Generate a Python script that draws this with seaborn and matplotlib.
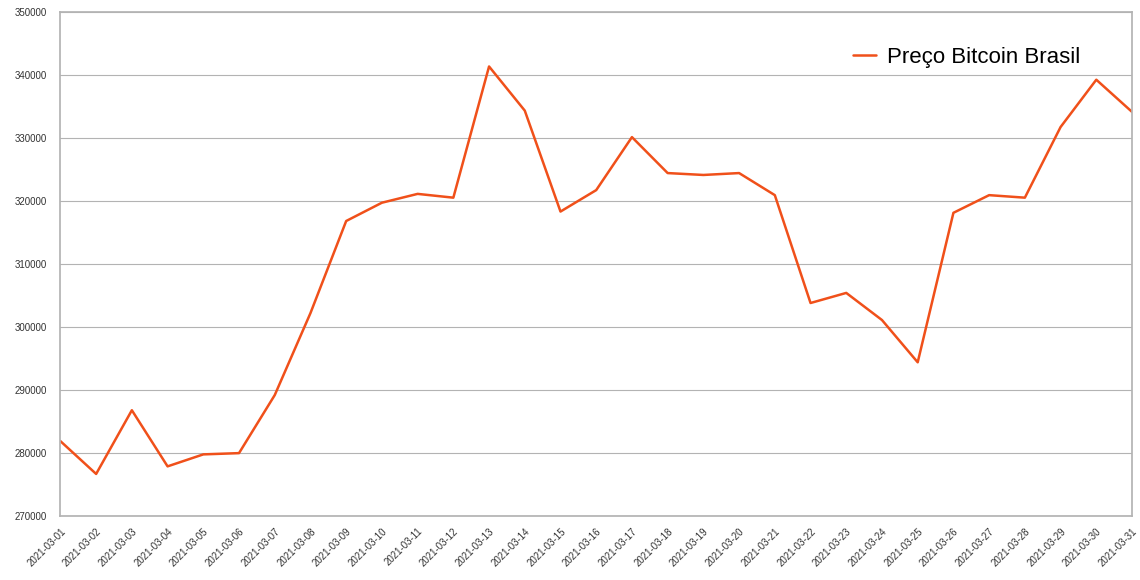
import matplotlib
matplotlib.use("Agg")
import matplotlib.pyplot as plt
import seaborn as sns
import pandas as pd

dates = [f"2021-03-{d:02d}" for d in range(1, 32)]
prices = [281900, 276700, 286800, 277900, 279800, 280000, 289200, 302200,
          316800, 319700, 321100, 320500, 341300, 334300, 318300, 321700,
          330100, 324400, 324100, 324400, 320900, 303800, 305400, 301100,
          294400, 318100, 320900, 320500, 331700, 339200, 334100]

sns.set_theme(style="whitegrid")
plt.rcParams["font.family"] = ["Liberation Sans", "DejaVu Sans"]

df = pd.DataFrame({"data": dates, "preco": prices})
fig, ax = plt.subplots(figsize=(11.4, 5.8), dpi=100)
sns.lineplot(data=df, x="data", y="preco", ax=ax, color="#f0501a", linewidth=1.8,
             label="Preço Bitcoin Brasil", sort=False)

ax.set_ylim(270000, 350000)
ax.set_yticks(range(270000, 350001, 10000))
ax.set_xlim(0, len(dates) - 1)
ax.grid(axis="x", visible=False)
ax.grid(axis="y", color="#b3b3b3", linewidth=0.8)
ax.set_xlabel("")
ax.set_ylabel("")
ax.tick_params(axis="x", labelsize=7, rotation=45, pad=1, colors="#333333")
ax.tick_params(axis="y", labelsize=7, colors="#333333")
for lbl in ax.get_xticklabels():
    lbl.set_ha("right")
    lbl.set_rotation_mode("anchor")
for s in ax.spines.values():
    s.set_color("#b3b3b3")
leg = ax.legend(loc="upper right", frameon=False, fontsize=16, bbox_to_anchor=(0.97, 0.97),
                handlelength=1.0, handletextpad=0.5)
for t in leg.get_texts():
    t.set_color("black")

fig.subplots_adjust(left=0.053, right=0.993, top=0.98, bottom=0.11)
fig.savefig("out.png")
